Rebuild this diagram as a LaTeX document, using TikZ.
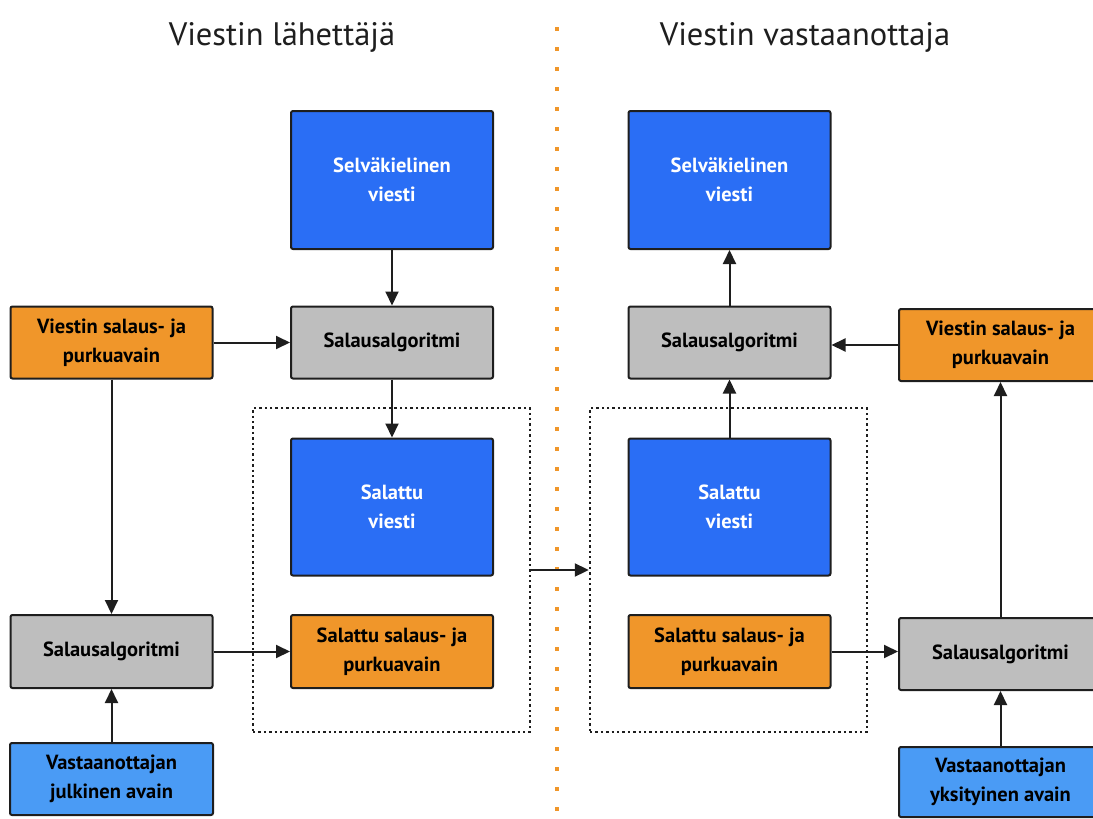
\documentclass[tikz,border=0pt]{standalone}
\usepackage{fontspec}
\setmainfont{PT Sans}
\usetikzlibrary{arrows.meta}
\definecolor{dblue}{HTML}{2A6EF5}
\definecolor{lblue}{HTML}{4A9BF5}
\definecolor{korange}{HTML}{F0962A}
\definecolor{kgray}{HTML}{BEBEBE}
\definecolor{kline}{HTML}{1E1E1E}
\tikzset{
  box/.style={draw=kline, line width=2pt, rounded corners=2pt, align=center,
    font=\fontsize{20.5}{29}\selectfont\bfseries, inner sep=0pt},
  bigbox/.style={box, fill=dblue, text=white, minimum width=202pt, minimum height=138pt},
  algbox/.style={box, fill=kgray, minimum width=202pt, minimum height=72pt},
  keybox/.style={box, fill=korange, minimum width=202pt, minimum height=72pt},
  pkbox/.style={box, fill=lblue, minimum width=203pt, minimum height=72pt},
  dotbox/.style={draw=kline, line width=2.4pt, dash pattern=on 2.4pt off 3pt,
    minimum width=277pt, minimum height=324pt, inner sep=0pt},
  arr/.style={draw=kline, line width=2pt, -{Triangle[length=14pt,width=13pt]}},
  ttl/.style={font=\fontsize{32.5}{38}\selectfont, text=kline}
}
\begin{document}
\begin{tikzpicture}[x=1pt,y=-1pt]
\useasboundingbox (0,0) rectangle (1093,819);
% separator
\draw[korange, line width=4pt, dash pattern=on 4pt off 16pt] (557,27) -- (557,819);
% titles
\node[ttl] (t1) at (282,37) {Viestin lähettäjä};
\node[ttl] (t2) at (805,37) {Viestin vastaanottaja};
% dotted groups
\node[dotbox] (g1) at (391.5,570) {};
\node[dotbox] (g2) at (728.5,570) {};
% left column
\node[bigbox] (plain1) at (392,180) {Selväkielinen\\viesti};
\node[algbox] (alg1) at (392,342.5) {Salausalgoritmi};
\node[keybox] (key1) at (111.5,342.5) {Viestin salaus- ja\\purkuavain};
\node[bigbox, minimum height=137pt] (enc1) at (392,507) {Salattu\\viesti};
\node[keybox, minimum height=73pt] (ekey1) at (392,651.5) {Salattu salaus- ja\\purkuavain};
\node[algbox, minimum height=73pt] (alg2) at (111.5,651.5) {Salausalgoritmi};
\node[pkbox] (pub) at (111.5,779) {Vastaanottajan\\julkinen avain};
% right column
\node[bigbox] (plain2) at (729.5,180) {Selväkielinen\\viesti};
\node[algbox] (alg3) at (729.5,342.5) {Salausalgoritmi};
\node[keybox, minimum width=203pt] (key2) at (1000.5,345) {Viestin salaus- ja\\purkuavain};
\node[bigbox, minimum height=137pt] (enc2) at (729.5,507) {Salattu\\viesti};
\node[keybox, minimum height=73pt] (ekey2) at (729.5,651.5) {Salattu salaus- ja\\purkuavain};
\node[algbox, minimum width=203pt] (alg4) at (1000.5,654) {Salausalgoritmi};
\node[pkbox, minimum height=70pt] (priv) at (1000.5,782) {Vastaanottajan\\yksityinen avain};
% connectors left
\draw[arr] (plain1) -- (alg1);
\draw[arr] (key1) -- (alg1);
\draw[arr] (alg1) -- (enc1);
\draw[arr] (key1) -- (alg2);
\draw[arr] (pub) -- (alg2);
\draw[arr] (alg2) -- (ekey1);
% middle
\draw[arr] (g1.east) -- (g2.west);
% connectors right
\draw[arr] (alg3) -- (plain2);
\draw[arr] (key2.west) -- (alg3.east |- key2.west);
\draw[arr] (enc2) -- (alg3);
\draw[arr] (alg4) -- (key2);
\draw[arr] (priv) -- (alg4);
\draw[arr] (ekey2.east) -- (alg4.west |- ekey2.east);
\end{tikzpicture}
\end{document}
